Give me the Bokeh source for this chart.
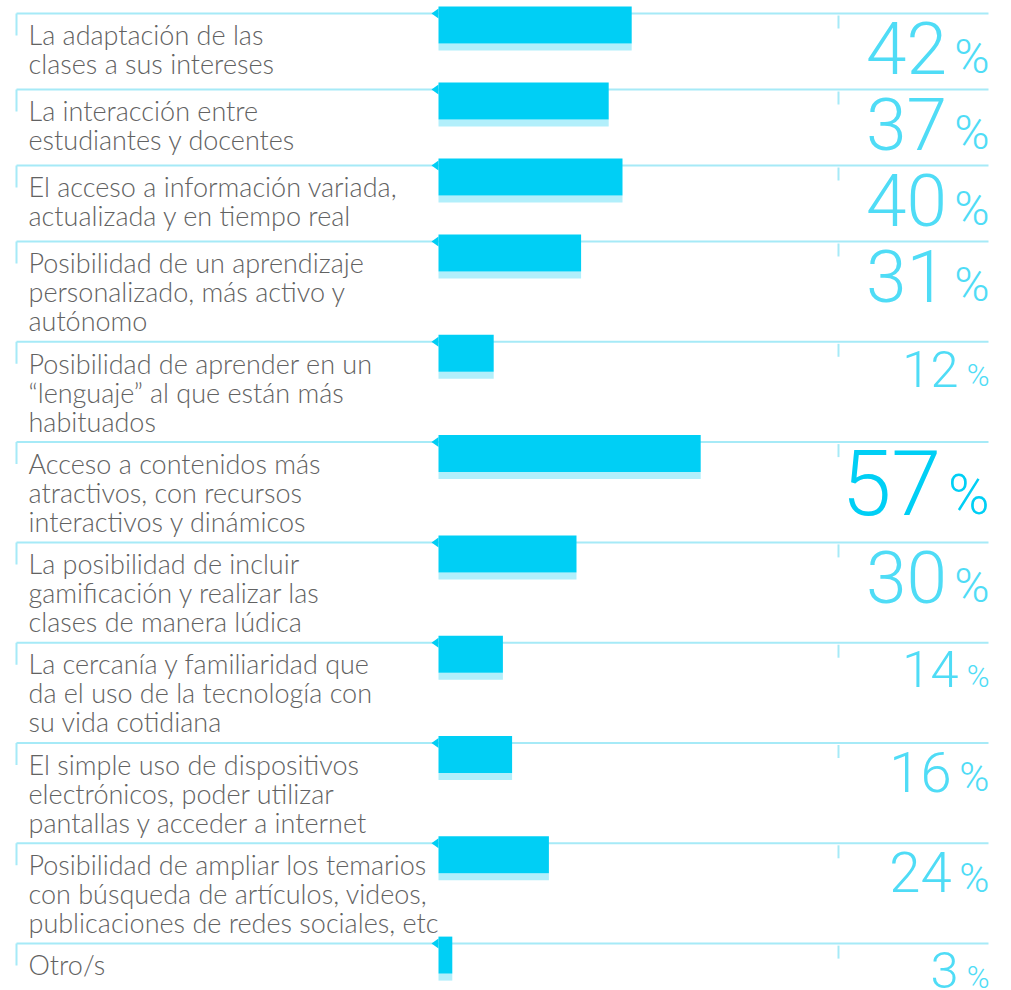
from bokeh.plotting import figure
from bokeh.models import Range1d, ColumnDataSource
from bokeh.embed import file_html
from bokeh.resources import INLINE
from bokeh.core.properties import value

# ---------------- data ----------------
labels = [
    "La adaptación de las\nclases a sus intereses",
    "La interacción entre\nestudiantes y docentes",
    "El acceso a información variada,\nactualizada y en tiempo real",
    "Posibilidad de un aprendizaje\npersonalizado, más activo y\nautónomo",
    "Posibilidad de aprender en un\n“lenguaje” al que están más\nhabituados",
    "Acceso a contenidos más\natractivos, con recursos\ninteractivos y dinámicos",
    "La posibilidad de incluir\ngamificación y realizar las\nclases de manera lúdica",
    "La cercanía y familiaridad que\nda el uso de la tecnología con\nsu vida cotidiana",
    "El simple uso de dispositivos\nelectrónicos, poder utilizar\npantallas y acceder a internet",
    "Posibilidad de ampliar los temarios\ncon búsqueda de artículos, videos,\npublicaciones de redes sociales, etc",
    "Otro/s",
]
values = [42, 37, 40, 31, 12, 57, 30, 14, 16, 24, 3]

# ---------------- style / layout ----------------
W, H = 1011, 990
BAR = "#00CFF5"
BAR_LIGHT = "#B2EFFB"
RULE = "#A6EAF7"
NUM_LIGHT = "#4FDCF6"
LABEL_COLOR = "#626262"
LABEL_FONT = "'Lato Light', Lato"
NUM_FONT = "'Roboto Light', Roboto"
SHIFT = 0.36  # em correction for the renderer's baseline placement

ROW_H = {1: 48.0, 2: 76.0, 3: 100.3}
TOP = 13
PX_PER_PCT = 4.6
BAR_X0 = 438

rows_lines = [lab.split("\n") for lab in labels]
line_y = []
y = TOP
for ls in rows_lines:
    line_y.append(y)
    y += ROW_H[len(ls)]

p = figure(width=W, height=H, x_range=Range1d(0, W), y_range=Range1d(H, 0),
           output_backend="svg", toolbar_location=None, min_border=0,
           x_axis_location=None, y_axis_location=None, outline_line_color=None)
p.grid.visible = False
p.extra_x_ranges = {"pct": Range1d(-BAR_X0 / PX_PER_PCT, (W - BAR_X0) / PX_PER_PCT)}

n = len(values)
# rules and ticks
p.segment(x0=[16] * n, x1=[988] * n, y0=line_y, y1=line_y, line_color=RULE, line_width=2)
p.segment(x0=[16] * n, x1=[16] * n, y0=line_y, y1=[l + 22 for l in line_y], line_color=RULE, line_width=2)
p.segment(x0=[838] * n, x1=[838] * n, y0=[l + 2 for l in line_y], y1=[l + 15 for l in line_y],
          line_color=RULE, line_width=2)

# notch triangles at bar start
p.patches(xs=[[BAR_X0 - 7, BAR_X0, BAR_X0] for _ in line_y],
          ys=[[l, l - 5, l + 5] for l in line_y], fill_color=BAR, line_color=None)

# bars (value units)
bars = ColumnDataSource(dict(left=[0] * n, right=values,
                             top=[l - 7 for l in line_y], mid=[l + 30 for l in line_y],
                             bot=[l + 37 for l in line_y]))
p.quad(left="left", right="right", top="mid", bottom="bot", source=bars, x_range_name="pct",
       fill_color=BAR_LIGHT, line_color=None)
p.quad(left="left", right="right", top="top", bottom="mid", source=bars, x_range_name="pct",
       fill_color=BAR, line_color=None)

# labels
LFS = 27
lx, ly, lt = [], [], []
for l, ls in zip(line_y, rows_lines):
    for i, t in enumerate(ls):
        lx.append(28)
        ly.append(l + 31 + 29 * i - SHIFT * LFS)
        lt.append(t)
p.text(x=lx, y=ly, text=lt, text_font=value(LABEL_FONT), text_font_size=f"{LFS}px",
       text_color=LABEL_COLOR, text_baseline="alphabetic", text_align="left")

# value numbers
DIGIT_H = [36, 40, 52, 64]
PCT_H = [22, 29, 34, 40]


def tier(v):
    return 3 if v >= 50 else 2 if v >= 28 else 1 if v >= 15 else 0


vmax = max(values)
nx, ny, nt, nfs, nc = [], [], [], [], []
px_, py_, pfs = [], [], []
for l, v in zip(line_y, values):
    t = tier(v)
    dfs = DIGIT_H[t] / 0.711
    pfs_ = PCT_H[t] / 0.711
    base = l + 9 + DIGIT_H[t]
    px_.append(989)
    py_.append(base - SHIFT * pfs_)
    pfs.append(f"{pfs_:.1f}px")
    nx.append(989 - 0.68 * pfs_ - 10)
    ny.append(base - SHIFT * dfs)
    nt.append(str(v))
    nfs.append(f"{dfs:.1f}px")
    nc.append(BAR if v == vmax else NUM_LIGHT)

nums = ColumnDataSource(dict(x=nx, y=ny, text=nt, fs=nfs, c=nc, px=px_, py=py_, pfs=pfs,
                             pct=["%"] * n))
p.text(x="x", y="y", text="text", text_font_size="fs", text_color="c", source=nums,
       text_font=value(NUM_FONT), text_align="right", text_baseline="alphabetic")
p.text(x="px", y="py", text="pct", text_font_size="pfs", text_color="c", source=nums,
       text_font=value(NUM_FONT), text_align="right", text_baseline="alphabetic")

open("out.html", "w").write(file_html(p, INLINE))
